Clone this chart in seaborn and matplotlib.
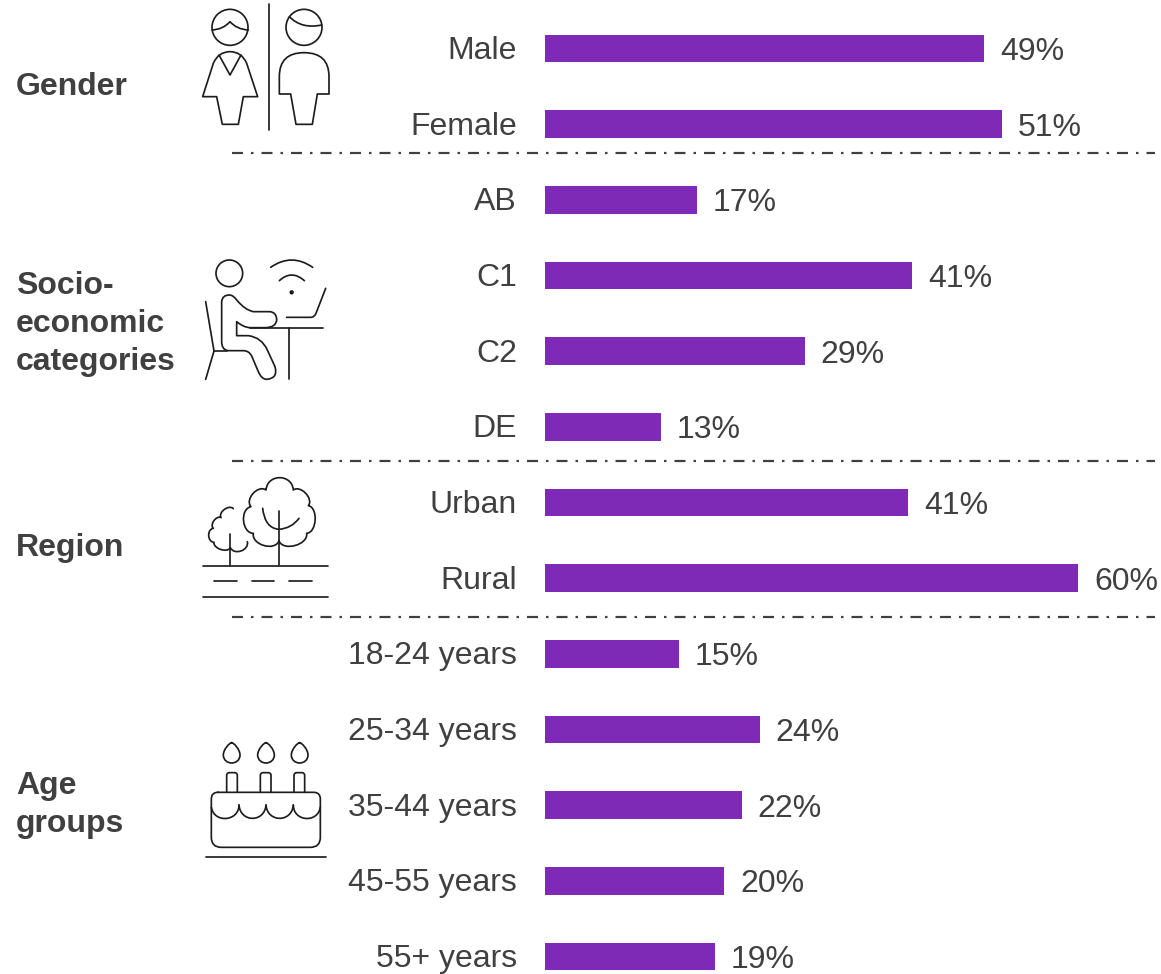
import matplotlib
matplotlib.use('Agg')
import matplotlib.pyplot as plt
from matplotlib.patches import Circle, PathPatch
from matplotlib.path import Path
from matplotlib.transforms import ScaledTranslation
import numpy as np
import pandas as pd
import seaborn as sns

segments = ['Male', 'Female', 'AB', 'C1', 'C2', 'DE', 'Urban', 'Rural',
            '18-24 years', '25-34 years', '35-44 years', '45-55 years', '55+ years']
# bar lengths, the labels are the rounded figures
shares = [49.0, 51.0, 17.0, 41.0, 29.0, 13.0, 40.5, 59.5, 15.0, 24.0, 22.0, 20.0, 19.0]
share_labels = ['49%', '51%', '17%', '41%', '29%', '13%', '41%', '60%',
                '15%', '24%', '22%', '20%', '19%']
group_names = ['Gender', 'Socio-\neconomic\ncategories', 'Region', 'Age\ngroups']

W, H = 1161, 974
BAR_COLOR = '#7F2AB6'
TEXT_COLOR = '#404040'
ICON_COLOR = '#1c1c1c'
FONT_SIZE = 23
PX = 72 / 100  # one pixel in points at dpi=100

sns.set_theme(style='white')
plt.rcParams['font.family'] = ['Liberation Sans', 'DejaVu Sans']
plt.rcParams['lines.scale_dashes'] = False

df = pd.DataFrame({'segment': segments, 'share': shares})

fig = plt.figure(figsize=(W / 100, H / 100), dpi=100)

# Bars
ax = fig.add_axes([544.5 / W, 0, (W - 544.5) / W, 1])
sns.barplot(data=df, x='share', y='segment', color=BAR_COLOR, saturation=1,
            width=27.5 / 75.67, linewidth=0, ax=ax)
ax.set_xlim(0, (W - 544.5) / 8.97)
ax.set_ylim((H - 48.5) / 75.67, -48.5 / 75.67)
ax.set_xlabel('')
ax.set_ylabel('')
ax.set_xticks([])
ax.tick_params(axis='y', length=0, pad=27.5 * PX, labelsize=FONT_SIZE, labelcolor=TEXT_COLOR)
sns.despine(ax=ax, left=True, bottom=True)
ax.patch.set_alpha(0)

up = ScaledTranslation(0, 1 / 100, fig.dpi_scale_trans)
for tick_label in ax.get_yticklabels():
    tick_label.set_transform(tick_label.get_transform() + up)

value_labels = ax.bar_label(ax.containers[0], labels=share_labels, padding=16 * PX,
                            fontsize=FONT_SIZE, color=TEXT_COLOR)
for value_label in value_labels:
    value_label.xyann = (16 * PX, -3.5 * PX)

# Overlay in pixel coordinates for separators, group names and icons
ov = fig.add_axes([0, 0, 1, 1], zorder=-1)
ov.set_xlim(0, W)
ov.set_ylim(H, 0)
ov.axis('off')

dash_style = (0, (11 * PX, 8 * PX, 2.5 * PX, 8 * PX))
for sep_y in [153, 461, 617]:
    ov.plot([232, 1155], [sep_y, sep_y], color=TEXT_COLOR, lw=2.2 * PX, linestyle=dash_style)

ov.text(16, 87, group_names[0], fontsize=FONT_SIZE, fontweight='bold', color=TEXT_COLOR, va='center')
ov.text(16, 324, group_names[1], fontsize=FONT_SIZE, fontweight='bold', color=TEXT_COLOR, va='center', linespacing=1.34)
ov.text(16, 548, group_names[2], fontsize=FONT_SIZE, fontweight='bold', color=TEXT_COLOR, va='center')
ov.text(16, 805, group_names[3], fontsize=FONT_SIZE, fontweight='bold', color=TEXT_COLOR, va='center', linespacing=1.34)

ICON_LW = 1.7 * PX


def to_px(x0, y0, pts):
    return [(x0 + p[0] / 3, y0 + p[1] / 3) for p in pts]


def stroke(x0, y0, start, segs, close=False):
    # segs: a 1-tuple list is a line, 2 points a quadratic, 3 points a cubic
    verts = to_px(x0, y0, [start])
    codes = [Path.MOVETO]
    for seg in segs:
        verts += to_px(x0, y0, seg)
        code = {1: Path.LINETO, 2: Path.CURVE3, 3: Path.CURVE4}[len(seg)]
        codes += [code] * len(seg)
    if close:
        verts.append(verts[0])
        codes.append(Path.CLOSEPOLY)
    ov.add_patch(PathPatch(Path(verts, codes), fill=False, edgecolor=ICON_COLOR,
                           lw=ICON_LW, capstyle='round', joinstyle='round'))


def ring(x0, y0, cx, cy, r, fill=False):
    c = to_px(x0, y0, [(cx, cy)])[0]
    ov.add_patch(Circle(c, r / 3, fill=fill, facecolor=ICON_COLOR, edgecolor=ICON_COLOR, lw=ICON_LW))


def poly(x0, y0, pts):
    stroke(x0, y0, pts[0], [[p] for p in pts[1:]])


def lobes(x0, y0, pts, bulges):
    # scalloped outline, each bulge is the height of the arc between two valleys
    segs = []
    for a, b, h in zip(pts[:-1], pts[1:], bulges):
        a, b = np.array(a, float), np.array(b, float)
        d = b - a
        n = np.array([d[1], -d[0]]) / np.hypot(*d)
        segs.append([tuple(a + n * h * 4 / 3 + d * 0.05), tuple(b + n * h * 4 / 3 - d * 0.05), tuple(b)])
    stroke(x0, y0, pts[0], segs)


# Gender icon
x0, y0 = 190, 0
ring(x0, y0, 120, 82, 54)
stroke(x0, y0, (66, 90), [[(100, 88), (120, 65)], [(140, 88), (175, 90)]])
stroke(x0, y0, (38, 290), [[(70, 190)], [(85, 155), (120, 155)], [(155, 155), (170, 190)], [(203, 290)],
                           [(160, 290)], [(145, 373)], [(97, 373)], [(80, 290)]], close=True)
poly(x0, y0, [(87, 165), (120, 225), (153, 165)])
poly(x0, y0, [(236, 12), (236, 390)])
ring(x0, y0, 342, 82, 54)
stroke(x0, y0, (298, 50), [[(335, 88), (395, 75)]])
stroke(x0, y0, (268, 282), [[(268, 230)], [(268, 158), (342, 158)], [(417, 158), (417, 230)], [(417, 282)],
                            [(382, 282)], [(367, 373)], [(318, 373)], [(302, 282)]], close=True)

# Person at a laptop
x0, y0 = 190, 250
ring(x0, y0, 118, 70, 40)
stroke(x0, y0, (242, 52), [[(305, 8), (368, 52)]])
stroke(x0, y0, (268, 92), [[(305, 58), (343, 92)]])
ring(x0, y0, 305, 127, 4, fill=True)
stroke(x0, y0, (407, 115), [[(378, 190)], [(373, 202), (362, 202)], [(290, 202)]])
stroke(x0, y0, (95, 155), [[(97, 135), (118, 135)], [(130, 135), (140, 150)], [(165, 180), (190, 185)], [(240, 185)],
                           [(260, 187), (260, 210)], [(258, 233), (225, 233)], [(180, 233)], [(160, 232), (140, 215)],
                           [(140, 257)], [(175, 257)], [(215, 262), (232, 300)], [(255, 350)],
                           [(265, 385), (230, 388)], [(215, 388), (205, 365)], [(185, 318)],
                           [(177, 302), (160, 302)], [(115, 302)], [(95, 300), (95, 275)]], close=True)
poly(x0, y0, [(180, 233), (400, 233)])
poly(x0, y0, [(297, 233), (297, 388)])
poly(x0, y0, [(47, 155), (72, 303), (47, 388)])
poly(x0, y0, [(72, 303), (110, 303)])

# Trees and road
x0, y0 = 190, 465
lobes(x0, y0, [(267, 228), (190, 205), (183, 125), (228, 75), (310, 75), (355, 122), (350, 205), (267, 228)],
      [26, 26, 22, 37, 20, 23, 26])
stroke(x0, y0, (218, 130), [[(225, 190), (267, 193)]])
stroke(x0, y0, (267, 193), [[(305, 190), (327, 160)]])
poly(x0, y0, [(267, 138), (267, 300)])
lobes(x0, y0, [(172, 230), (121, 248), (72, 232), (70, 190), (93, 158), (130, 131)],
      [20, 14, 15, 12, 14])
poly(x0, y0, [(121, 208), (121, 300)])
poly(x0, y0, [(38, 302), (415, 302)])
poly(x0, y0, [(72, 349), (140, 349)])
poly(x0, y0, [(185, 349), (253, 349)])
poly(x0, y0, [(298, 349), (367, 349)])
poly(x0, y0, [(38, 395), (415, 395)])

# Birthday cake
x0, y0 = 190, 730
for cx in [125, 228, 329]:
    stroke(x0, y0, (cx, 38), [[(cx + 6, 38), (cx + 25, 58), (cx + 25, 75)], [(cx + 25, 90), (cx + 13, 99), (cx, 99)],
                              [(cx - 13, 99), (cx - 25, 90), (cx - 25, 75)], [(cx - 25, 58), (cx - 6, 38), (cx, 38)]])
for left in [110, 211, 312]:
    stroke(x0, y0, (left, 187), [[(left, 136)], [(left, 128), (left + 8, 128)], [(left + 24, 128)],
                                 [(left + 32, 128), (left + 32, 136)], [(left + 32, 187)]])
stroke(x0, y0, (84, 187), [[(371, 187)], [(391, 187), (391, 207)], [(391, 322)], [(391, 352), (361, 352)],
                           [(94, 352)], [(64, 352), (64, 322)], [(64, 207)], [(64, 187), (84, 187)]])
lobes(x0, y0, [(64, 232), (147, 225)], [-37])
lobes(x0, y0, [(147, 225), (228, 225)], [-40])
lobes(x0, y0, [(228, 225), (310, 225)], [-40])
lobes(x0, y0, [(310, 225), (391, 232)], [-37])
poly(x0, y0, [(47, 380), (407, 380)])

fig.savefig('out.png', dpi=100)
plt.close(fig)
